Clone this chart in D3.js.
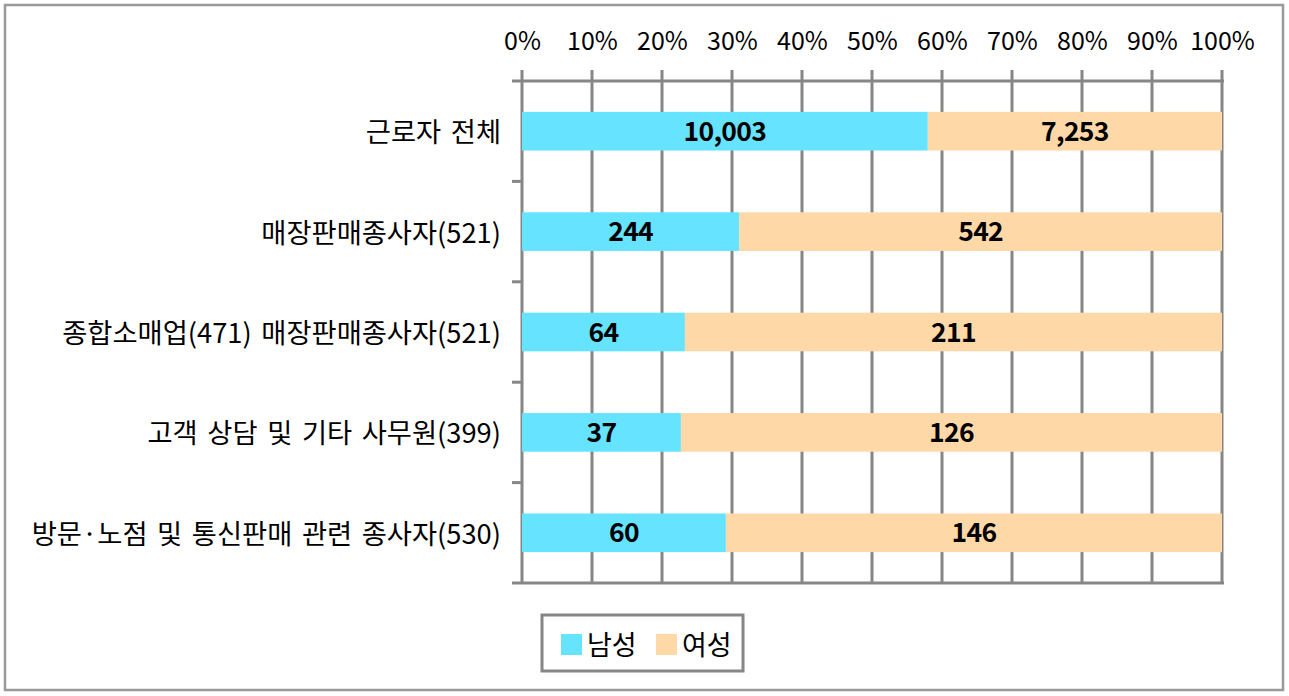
<!DOCTYPE html>
<html>
<head>
<meta charset="utf-8">
<script src="https://cdn.jsdelivr.net/npm/d3@7"></script>
<style>
  html, body { margin: 0; padding: 0; background: #fff; }
  svg { display: block; }
  text { font-family: "Noto Sans CJK KR", "Noto Sans", sans-serif; fill: #000; }
</style>
</head>
<body>
<svg id="chart" width="1289" height="696"></svg>
<script>
const categories = [
  "근로자 전체",
  "매장판매종사자(521)",
  "종합소매업(471) 매장판매종사자(521)",
  "고객 상담 및 기타 사무원(399)",
  "방문·노점 및 통신판매 관련 종사자(530)"
];
const male = [10003, 244, 64, 37, 60];
const female = [7253, 542, 211, 126, 146];
const seriesNames = ["남성", "여성"];
const seriesColors = ["#66E4FF", "#FFD8A8"];
const tickValues = [0, 0.1, 0.2, 0.3, 0.4, 0.5, 0.6, 0.7, 0.8, 0.9, 1.0];

(function () {
const svg = d3.select("#chart");

// outer frame
svg.append("rect").attr("x", 5).attr("y", 5).attr("width", 1278).attr("height", 685)
  .attr("fill", "#fff").attr("stroke", "#999").attr("stroke-width", 2.5);

const pL = 522, pR = 1222, pT = 81, pB = 583;
const x = d3.scaleLinear().domain([0, 1]).range([pL, pR]);
const y = d3.scaleBand().domain(categories).range([pT, pB]).paddingInner(0.615).paddingOuter(0.3075);
const yb = d3.scaleBand().domain(categories).range([pT, pB]);

const gridColor = "#868686";

// gridlines (extend above the top axis line)
svg.append("g").selectAll("line").data(tickValues).join("line")
  .attr("x1", d => x(d)).attr("x2", d => x(d))
  .attr("y1", pT - 11).attr("y2", pB)
  .attr("stroke", gridColor).attr("stroke-width", 3);

// top axis line & bottom line
svg.append("line").attr("x1", pL - 10).attr("x2", pR + 2).attr("y1", pT).attr("y2", pT)
  .attr("stroke", gridColor).attr("stroke-width", 3);
svg.append("line").attr("x1", pL - 10).attr("x2", pR + 2).attr("y1", pB).attr("y2", pB)
  .attr("stroke", gridColor).attr("stroke-width", 3);

// left category ticks
const bounds = categories.map(c => yb(c)).concat([pB]);
svg.append("g").selectAll("line").data(bounds.slice(1, -1)).join("line")
  .attr("x1", pL - 10).attr("x2", pL).attr("y1", d => d).attr("y2", d => d)
  .attr("stroke", gridColor).attr("stroke-width", 3);

// top axis labels via d3 axis
const axis = d3.axisTop(x).tickValues(tickValues).tickFormat(d3.format(".0%")).tickSize(0).tickPadding(0);
const axG = svg.append("g").attr("transform", "translate(0,50)").call(axis);
axG.select(".domain").remove();
axG.selectAll("text").attr("font-size", 25).attr("font-family", "'Noto Sans CJK KR', sans-serif")
  .attr("fill", "#000").attr("dy", 0);

// stacked data
const rows = categories.map((c, i) => {
  const tot = male[i] + female[i];
  return { cat: c, vals: [male[i], female[i]], shares: [male[i] / tot, female[i] / tot] };
});

const barG = svg.append("g");
rows.forEach(r => {
  let acc = 0;
  r.shares.forEach((s, k) => {
    const x0 = x(acc), x1 = x(acc + s);
    barG.append("rect")
      .attr("x", x0).attr("y", y(r.cat))
      .attr("width", x1 - x0).attr("height", y.bandwidth())
      .attr("fill", seriesColors[k]);
    barG.append("text")
      .attr("x", (x0 + x1) / 2)
      .attr("y", y(r.cat) + y.bandwidth() / 2 + 9.5)
      .attr("text-anchor", "middle")
      .attr("font-size", 26.5).attr("font-weight", "bold")
      .attr("letter-spacing", -0.7)
      .text(d3.format(",")(r.vals[k]));
    acc += s;
  });
});

// category labels
svg.append("g").selectAll("text").data(categories).join("text")
  .attr("x", 501).attr("y", d => yb(d) + yb.bandwidth() / 2 + 11)
  .attr("text-anchor", "end").attr("font-size", 27.3)
  .attr("word-spacing", 3.5)
  .text(d => d);

// legend
const lg = svg.append("g");
lg.append("rect").attr("x", 542).attr("y", 615).attr("width", 201).attr("height", 56)
  .attr("fill", "#fff").attr("stroke", gridColor).attr("stroke-width", 3);
const legX = [561, 656];
seriesNames.forEach((n, k) => {
  lg.append("rect").attr("x", legX[k]).attr("y", 634).attr("width", 21).attr("height", 21)
    .attr("fill", seriesColors[k]);
  lg.append("text").attr("x", legX[k] + 26).attr("y", 655).attr("font-size", 27).text(n);
});
})();
</script>
</body>
</html>
